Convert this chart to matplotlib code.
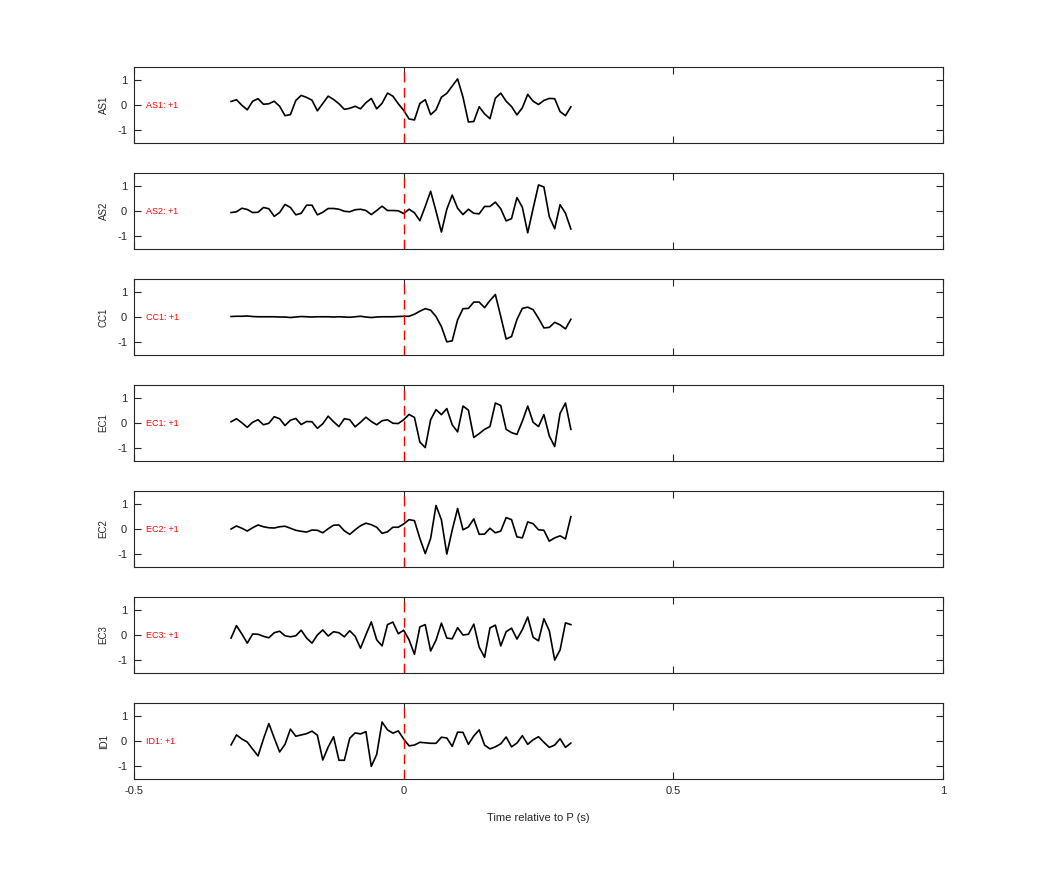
import numpy as np
import matplotlib
matplotlib.use('Agg')
from matplotlib import pyplot as plt

plt.rcParams['font.family'] = ['Liberation Sans', 'DejaVu Sans']
plt.rcParams['axes.unicode_minus'] = False

# time axis: 64 samples, 0.01 s apart
t = np.round(np.arange(-0.32, 0.315, 0.01), 2)

stations = ['AS1', 'AS2', 'CC1', 'EC1', 'EC2', 'EC3', 'ID1']
polarity = ['+1', '+1', '+1', '+1', '+1', '+1', '+1']

as1 = [0.14, 0.21, -0.01, -0.19, 0.15, 0.25, 0.03, 0.05, 0.15, -0.05, -0.42, -0.38, 0.18, 0.38, 0.30, 0.19,
       -0.23, 0.06, 0.35, 0.22, 0.05, -0.17, -0.13, -0.05, -0.15, 0.09, 0.26, -0.15, 0.07, 0.47, 0.35, 0.05,
       -0.21, -0.55, -0.59, 0.06, 0.21, -0.38, -0.19, 0.31, 0.46, 0.75, 1.03, 0.31, -0.67, -0.65, -0.07, -0.35,
       -0.54, 0.27, 0.47, 0.15, -0.06, -0.39, -0.11, 0.42, 0.15, 0.02, 0.18, 0.26, 0.25, -0.26, -0.42, -0.07]
as2 = [-0.06, -0.03, 0.11, 0.06, -0.06, -0.05, 0.14, 0.09, -0.21, -0.06, 0.26, 0.14, -0.15, -0.09, 0.23, 0.23,
       -0.15, -0.05, 0.10, 0.10, 0.07, -0.01, -0.03, 0.05, 0.07, 0.02, -0.14, 0.02, 0.19, 0.02, 0.02, 0.01,
       -0.10, 0.07, -0.07, -0.38, 0.18, 0.78, -0.01, -0.83, 0.07, 0.63, 0.11, -0.14, 0.07, -0.09, -0.11, 0.18,
       0.18, 0.35, 0.09, -0.39, -0.30, 0.53, 0.15, -0.86, 0.10, 1.03, 0.95, -0.22, -0.70, 0.25, -0.09, -0.71]
cc1 = [0.02, 0.03, 0.03, 0.04, 0.02, 0.01, 0.01, 0.01, 0.01, 0.0, 0.0, -0.02, 0.0, 0.02, 0.01, 0.0,
       0.01, 0.01, 0.01, 0.0, 0.01, 0.0, -0.01, 0.01, 0.03, 0.0, -0.02, 0.0, 0.01, 0.01, 0.01, 0.02,
       0.03, 0.03, 0.11, 0.23, 0.33, 0.27, 0.02, -0.38, -0.98, -0.94, -0.11, 0.33, 0.34, 0.59, 0.59, 0.37,
       0.65, 0.89, 0.02, -0.87, -0.77, -0.10, 0.34, 0.39, 0.29, -0.05, -0.43, -0.41, -0.21, -0.31, -0.47, -0.09]
ec1 = [0.05, 0.17, 0.01, -0.17, 0.03, 0.13, -0.07, -0.01, 0.25, 0.17, -0.10, 0.11, 0.18, -0.06, 0.06, 0.05,
       -0.21, -0.03, 0.27, 0.05, -0.14, 0.17, 0.13, -0.15, 0.03, 0.23, 0.06, -0.07, 0.09, 0.13, -0.01, -0.02,
       0.13, 0.34, 0.22, -0.75, -0.97, 0.13, 0.53, 0.33, 0.57, -0.07, -0.35, 0.67, 0.51, -0.57, -0.42, -0.25,
       -0.14, 0.79, 0.69, -0.25, -0.38, -0.45, 0.07, 0.67, 0.03, -0.14, 0.33, -0.51, -0.93, 0.38, 0.79, -0.25]
ec2 = [0.0, 0.12, 0.03, -0.08, 0.05, 0.16, 0.09, 0.05, 0.04, 0.09, 0.11, 0.03, -0.05, -0.09, -0.12, -0.04,
       -0.05, -0.15, 0.01, 0.15, 0.16, -0.07, -0.21, -0.03, 0.13, 0.23, 0.17, 0.07, -0.17, -0.11, 0.07, 0.07,
       0.20, 0.37, 0.33, -0.37, -0.97, -0.37, 0.93, 0.36, -0.99, -0.04, 0.81, -0.03, 0.08, 0.40, -0.21, -0.20,
       0.03, -0.15, -0.08, 0.45, 0.37, -0.31, -0.35, 0.28, 0.21, -0.03, -0.05, -0.48, -0.35, -0.27, -0.39, 0.49]
ec3 = [-0.12, 0.37, 0.04, -0.32, 0.04, 0.03, -0.05, -0.11, 0.09, 0.15, -0.03, -0.07, -0.03, 0.19, -0.12, -0.32,
       0.0, 0.20, -0.04, 0.13, 0.09, -0.07, 0.17, -0.05, -0.52, 0.01, 0.52, -0.19, -0.43, 0.41, 0.51, 0.05,
       0.19, -0.19, -0.76, 0.32, 0.41, -0.63, -0.20, 0.47, -0.12, -0.15, 0.29, 0.0, 0.03, 0.43, -0.48, -0.88,
       0.28, 0.39, -0.43, 0.13, 0.27, -0.16, 0.21, 0.71, -0.09, -0.23, 0.64, 0.17, -0.99, -0.59, 0.48, 0.41]
id1 = [-0.15, 0.24, 0.08, -0.04, -0.32, -0.59, 0.08, 0.69, 0.12, -0.43, -0.13, 0.47, 0.19, 0.24, 0.29, 0.39,
       0.23, -0.75, -0.24, 0.17, -0.76, -0.76, 0.11, 0.32, 0.28, 0.37, -1.0, -0.53, 0.75, 0.44, 0.31, 0.40,
       0.08, -0.19, -0.16, -0.05, -0.07, -0.09, -0.09, 0.15, 0.12, -0.21, 0.35, 0.34, -0.13, 0.20, 0.44, -0.16,
       -0.31, -0.23, -0.11, 0.16, -0.23, -0.08, 0.21, -0.13, 0.05, 0.17, -0.05, -0.25, -0.16, 0.09, -0.25, -0.08]
traces = [as1, as2, cc1, ec1, ec2, ec3, id1]

fig = plt.figure(figsize=(10.42, 8.75), dpi=100)
gs = fig.add_gridspec(len(stations), 1, left=0.1286, right=0.905, top=0.9234, bottom=0.1097, hspace=0.395)

for k, name in enumerate(stations):
    ax = fig.add_subplot(gs[k])
    ax.plot(t, traces[k], color='black', lw=1.2)
    ax.plot([0, 0], [-1.5, 1.5], color='red', ls=(0, (7, 4)), lw=1.0)
    ax.text(-0.478, 0, name + ': ' + polarity[k], color='red', fontsize=6.5, va='center', ha='left')
    ax.set_xlim(-0.5, 1)
    ax.set_ylim(-1.5, 1.5)
    ax.set_yticks([-1, 0, 1])
    ax.set_yticklabels(['-1', '0', '1'])
    ax.set_xticks([-0.5, 0, 0.5, 1])
    ax.tick_params(direction='in', top=True, right=True, labelsize=8, length=5, width=0.8,
                   colors='#262626', pad=5)
    ax.set_ylabel(name, fontsize=7, color='#262626', labelpad=6)
    for s in ax.spines.values():
        s.set_linewidth(0.8)
        s.set_color('#262626')
    if k < len(stations) - 1:
        ax.set_xticklabels([])
    else:
        ax.set_xticklabels(['-0.5', '0', '0.5', '1'])
        ax.set_xlabel('Time relative to P (s)', fontsize=8, color='#262626', labelpad=12)

fig.savefig('out.png', dpi=100)
